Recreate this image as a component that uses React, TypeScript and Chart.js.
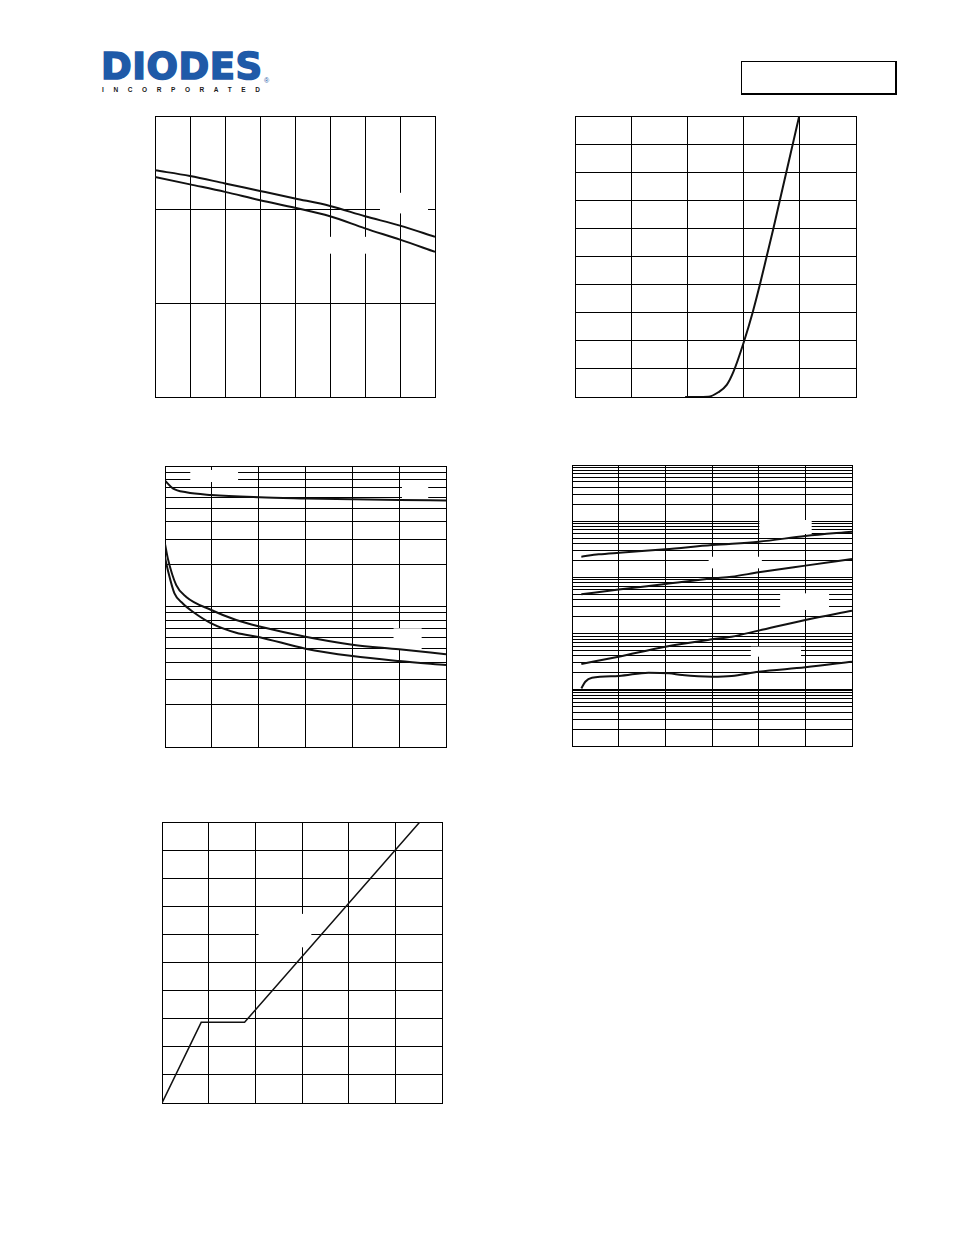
import React, { useEffect, useRef } from "react";
import { Chart, registerables } from "chart.js";

Chart.register(...registerables);

// ---------- Chart 1 (top-left): two slowly falling curves vs temperature ----------
const c1TempTicks = [-50, -25, 0, 25, 50, 75, 100, 125, 150];
const c1YTicks = [0, 1, 2, 3];
const c1UpperT = [-50, -25, 0, 25, 50, 75, 100, 125, 150];
const c1Upper = [2.42, 2.36, 2.28, 2.2, 2.12, 2.04, 1.93, 1.83, 1.71];
const c1LowerT = [-50, -25, 0, 25, 50, 75, 100, 125, 150];
const c1Lower = [2.35, 2.27, 2.19, 2.1, 2.02, 1.93, 1.8, 1.68, 1.55];

// ---------- Chart 2 (top-right): transfer curve ----------
const c2XTicks = [0, 1, 2, 3, 4, 5];
const c2YTicks = [0, 1, 2, 3, 4, 5, 6, 7, 8, 9, 10];
const c2V = [1.96, 2.15, 2.37, 2.55, 2.7, 2.82, 3.0, 3.16, 3.29, 3.41, 3.53, 3.645, 3.76, 3.875, 3.99];
const c2I = [0, 0, 0.01, 0.17, 0.43, 0.9, 1.93, 3, 4, 5, 6, 7, 8, 9, 10];

// ---------- Chart 3 (middle-left): capacitance (log) ----------
const c3XTicks = [0, 5, 10, 15, 20, 25, 30];
const c3YTicks = [1, 2, 3, 4, 5, 6, 7, 8, 9, 10, 20, 30, 40, 50, 60, 70, 80, 90, 100];
const c3TopV = [0, 0.83, 2.27, 4.94, 10.1, 15, 20, 25, 30];
const c3Top = [78.6, 69.4, 65.0, 62.2, 59.9, 58.8, 57.9, 57.2, 56.9];
const c3MidV = [0, 0.3, 1.2, 2.27, 4.94, 7.6, 10.1, 15, 20, 25, 30];
const c3Mid = [27.9, 22.0, 14.2, 11.7, 9.44, 8.01, 7.2, 6.1, 5.35, 4.96, 4.57];
const c3LowV = [0, 0.3, 1.01, 1.9, 2.97, 4.94, 7.6, 10.1, 15, 20, 25, 30];
const c3Low = [22.4, 18.2, 12.4, 10.5, 9.18, 7.59, 6.51, 6.05, 5.01, 4.44, 4.09, 3.83];

// ---------- Chart 4 (middle-right): four curves on log scale ----------
const c4XTicks = [0, 25, 50, 75, 100, 125, 150];
const c4YTicks = [
  0.1, 0.2, 0.3, 0.4, 0.5, 0.6, 0.7, 0.8, 0.9,
  1, 2, 3, 4, 5, 6, 7, 8, 9,
  10, 20, 30, 40, 50, 60, 70, 80, 90,
  100, 200, 300, 400, 500, 600, 700, 800, 900,
  1000, 2000, 3000, 4000, 5000, 6000, 7000, 8000, 9000, 10000,
];
const c4AT = [5, 14.3, 25.3, 50, 75, 100, 125, 150];
const c4A = [234, 257, 275, 316, 377, 432, 545, 651];
const c4BT = [5, 25, 50, 75, 85.5, 100, 125, 150];
const c4B = [50, 61, 76, 96, 103, 123, 162, 212];
const c4CT = [5, 25, 50, 75, 85.5, 100, 125, 150];
const c4C = [2.88, 3.89, 5.85, 7.91, 8.81, 11.3, 17.5, 25.6];
const c4DT = [5, 7.1, 10.7, 25, 41, 52, 59, 75, 85.5, 100, 125, 150];
const c4D = [1.06, 1.39, 1.64, 1.76, 2.02, 1.97, 1.83, 1.71, 1.76, 2.1, 2.51, 3.17];

// ---------- Chart 5 (bottom-left): gate charge ----------
const c5XTicks = [0, 2, 4, 6, 8, 10, 12];
const c5YTicks = [0, 1, 2, 3, 4, 5, 6, 7, 8, 9, 10];
const c5Q = [0, 1.68, 3.54, 11.05];
const c5V = [0, 2.87, 2.87, 10];

// label masks (blank label areas in data units: x1, x2, y1, y2)
const c1Masks = [[110.7, 145, 2.18, 1.96], [70, 105.7, 1.71, 1.53]];
const c3Masks = [[2.7, 7.8, 93.7, 76.9], [25.3, 28.1, 73.2, 58.9], [24.4, 27.4, 7.0, 4.9]];
const c4Masks = [[100.4, 128.4, 1050, 592], [73.2, 101.7, 233, 145], [111.5, 137.7, 52.1, 26.3], [95.8, 122.7, 5.85, 3.88]];
const c5Masks = [[4.14, 6.4, 6.73, 5.54]];

const pts = (xs: number[], ys: number[]) => xs.map((x, i) => ({ x, y: ys[i] }));

const maskPlugin = {
  id: "masks",
  beforeDatasetsDraw(chart: any, _args: any, opts: any) {
    const boxes = (opts && opts.boxes) || [];
    const { ctx } = chart;
    const xs = chart.scales.x;
    const ys = chart.scales.y;
    ctx.save();
    ctx.fillStyle = "#ffffff";
    for (const b of boxes) {
      const x1 = xs.getPixelForValue(b[0]);
      const x2 = xs.getPixelForValue(b[1]);
      const y1 = ys.getPixelForValue(b[2]);
      const y2 = ys.getPixelForValue(b[3]);
      ctx.fillRect(Math.min(x1, x2), Math.min(y1, y2), Math.abs(x2 - x1), Math.abs(y2 - y1));
    }
    ctx.restore();
  },
};

function axis(type: string, ticks: number[], thick?: number) {
  return {
    type,
    min: ticks[0],
    max: ticks[ticks.length - 1],
    afterBuildTicks: (s: any) => {
      s.ticks = ticks.map((v) => ({ value: v }));
    },
    ticks: { display: false },
    grid: {
      color: "#000",
      lineWidth: (c: any) => (thick !== undefined && c.tick && c.tick.value === thick ? 2 : 1),
      drawTicks: false,
    },
    border: { display: true, color: "#000", width: 1 },
  };
}

function line(data: any[], smooth: boolean, width = 2) {
  return {
    data,
    borderColor: "#111",
    borderWidth: width,
    pointRadius: 0,
    fill: false,
    tension: smooth ? 0.4 : 0,
    cubicInterpolationMode: smooth ? "monotone" : "default",
  };
}

const PAD = 4;

function Plot({ left, top, width, height, make }: any) {
  const ref = useRef<HTMLCanvasElement | null>(null);
  useEffect(() => {
    const chart = new Chart(ref.current as HTMLCanvasElement, make());
    return () => chart.destroy();
  }, []);
  return (
    <canvas
      ref={ref}
      width={width + 2 * PAD}
      height={height + 2 * PAD}
      style={{
        position: "absolute",
        left: left - PAD,
        top: top - PAD,
        width: width + 2 * PAD,
        height: height + 2 * PAD,
      }}
    />
  );
}

function cfg(datasets: any[], xAxis: any, yAxis: any, masks: number[][]) {
  return {
    type: "line",
    data: { datasets },
    options: {
      animation: false,
      responsive: false,
      devicePixelRatio: 1,
      layout: { padding: PAD },
      plugins: { legend: { display: false }, tooltip: { enabled: false }, masks: { boxes: masks } },
      scales: { x: xAxis, y: yAxis },
      events: [],
    },
    plugins: [maskPlugin],
  } as any;
}

export default function App() {
  return (
    <div
      style={{
        position: "absolute",
        left: 0,
        top: 0,
        width: 954,
        height: 1235,
        background: "#fff",
        fontFamily: "'Liberation Sans', Arial, sans-serif",
      }}
    >
      {/* Logo */}
      <div
        style={{
          position: "absolute",
          left: 101,
          top: 49,
          fontFamily: "'DejaVu Sans', sans-serif",
          fontSize: 37,
          lineHeight: "36px",
          fontWeight: 700,
          color: "#1f5aa8",
          letterSpacing: "0.5px",
          WebkitTextStroke: "1.6px #1f5aa8",
          whiteSpace: "nowrap",
        }}
      >
        DIODES
      </div>
      <div style={{ position: "absolute", left: 264, top: 77, fontSize: 7, lineHeight: "8px", color: "#1f5aa8" }}>®</div>
      <div
        style={{
          position: "absolute",
          left: 102,
          top: 86,
          fontSize: 6.5,
          lineHeight: "8px",
          fontWeight: 700,
          color: "#1a1a1a",
          letterSpacing: "9.6px",
          whiteSpace: "nowrap",
        }}
      >
        INCORPORATED
      </div>
      {/* Header box */}
      <div
        style={{
          position: "absolute",
          left: 741,
          top: 61,
          width: 156,
          height: 34,
          boxSizing: "border-box",
          borderTop: "1px solid #000",
          borderLeft: "1px solid #000",
          borderRight: "2px solid #000",
          borderBottom: "2px solid #000",
        }}
      />

      <Plot
        left={155}
        top={116}
        width={280}
        height={281}
        make={() =>
          cfg(
            [line(pts(c1UpperT, c1Upper), true), line(pts(c1LowerT, c1Lower), true)],
            axis("linear", c1TempTicks),
            axis("linear", c1YTicks),
            c1Masks
          )
        }
      />
      <Plot
        left={575}
        top={116}
        width={281}
        height={281}
        make={() =>
          cfg([line(pts(c2V, c2I), true)], axis("linear", c2XTicks), axis("linear", c2YTicks), [])
        }
      />
      <Plot
        left={165}
        top={466}
        width={281}
        height={281}
        make={() =>
          cfg(
            [
              line(pts(c3TopV, c3Top), true),
              line(pts(c3MidV, c3Mid), true),
              line(pts(c3LowV, c3Low), true),
            ],
            axis("linear", c3XTicks),
            axis("logarithmic", c3YTicks),
            c3Masks
          )
        }
      />
      <Plot
        left={572}
        top={465}
        width={280}
        height={281}
        make={() =>
          cfg(
            [
              line(pts(c4AT, c4A), true),
              line(pts(c4BT, c4B), true),
              line(pts(c4CT, c4C), true),
              line(pts(c4DT, c4D), true),
            ],
            axis("linear", c4XTicks),
            axis("logarithmic", c4YTicks, 1),
            c4Masks
          )
        }
      />
      <Plot
        left={162}
        top={822}
        width={280}
        height={281}
        make={() =>
          cfg([line(pts(c5Q, c5V), false, 1.5)], axis("linear", c5XTicks), axis("linear", c5YTicks), c5Masks)
        }
      />
    </div>
  );
}
